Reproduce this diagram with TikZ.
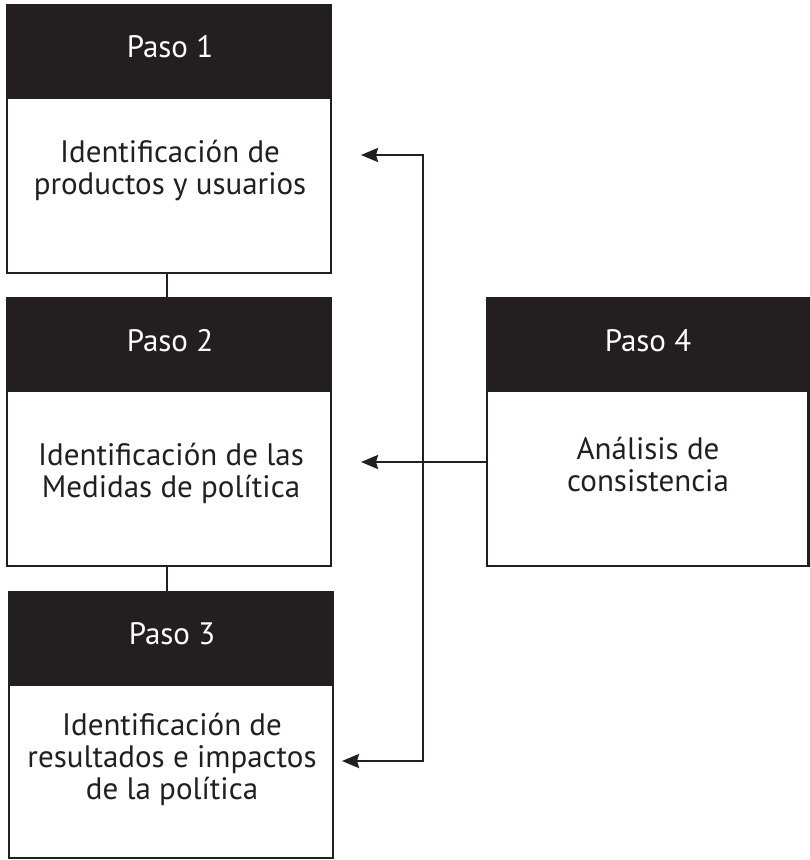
\documentclass[tikz,border=0pt]{standalone}
\usepackage{fontspec}
\setmainfont{PT Sans}
\usetikzlibrary{arrows.meta}
\definecolor{ink}{HTML}{231F20}
\begin{document}
\begin{tikzpicture}[x=1pt,y=-1pt,
  head/.style={draw=ink,fill=ink,line width=2.5pt,minimum width=#1,minimum height=93pt,inner sep=0pt,outer sep=0pt},
  body/.style={draw=ink,fill=white,line width=2.5pt,inner sep=0pt,outer sep=0pt},
  htext/.style={text=white,font=\fontsize{31}{32}\selectfont,anchor=base,inner sep=0pt},
  btext/.style={text=ink,font=\fontsize{31}{32}\selectfont,align=center,anchor=base,inner sep=0pt},
  conn/.style={draw=ink,line width=2.5pt},
  arr/.style={draw=ink,line width=2.5pt,line join=miter,{Stealth[length=17pt,width=14pt,inset=2pt]}-{Stealth[length=17pt,width=14pt,inset=2pt]}},
  arrone/.style={draw=ink,line width=2.5pt,-{Stealth[length=17pt,width=14pt,inset=2pt]}}]
\useasboundingbox (0,0) rectangle (810,860);
% Box 1
\node[body,minimum width=324pt,minimum height=175pt] (b1) at (169,185.5) {};
\node[head=324pt] (h1) at (169,51.5) {};
\node[htext] (p1) at (170,57) {Paso 1};
\node[btext] (t1) at (170,194) {Identificación de\\productos y usuarios};
% Box 2
\node[body,minimum width=324pt,minimum height=175pt] (b2) at (169,478.5) {};
\node[head=324pt] (h2) at (169,344.5) {};
\node[htext] (p2) at (170,351) {Paso 2};
\node[btext] (t2) at (171,497) {Identificación de las\\Medidas de política};
% Box 3
\node[body,minimum width=324pt,minimum height=173pt] (b3) at (171,771.5) {};
\node[head=324pt] (h3) at (171,638.5) {};
\node[htext] (p3) at (172,644) {Paso 3};
\node[btext] (t3) at (172,799) {Identificación de\\resultados e impactos\\de la política};
% Box 4
\node[body,minimum width=321.5pt,minimum height=175pt] (b4) at (647.75,478.5) {};
\node[head=321.5pt] (h4) at (647.75,344.5) {};
\node[htext] (p4) at (648,351) {Paso 4};
\node[btext] (t4) at (648,491) {Análisis de\\consistencia};
% connectors between boxes
\draw[conn] (b1.south -| 167,0) -- (h2.north -| 167,0);
\draw[conn] (b2.south -| 167,0) -- (h3.north -| 167,0);
% feedback bracket
\coordinate (a1) at (361,155);
\coordinate (c1) at (423,155);
\coordinate (c3) at (423,761);
\coordinate (a3) at (342,761);
\coordinate (a2) at (361,462);
\draw[arr] (a1) -- (c1) -- (c3) -- (a3);
\draw[arrone] (b4.west |- a2) -- (a2);
\end{tikzpicture}
\end{document}
